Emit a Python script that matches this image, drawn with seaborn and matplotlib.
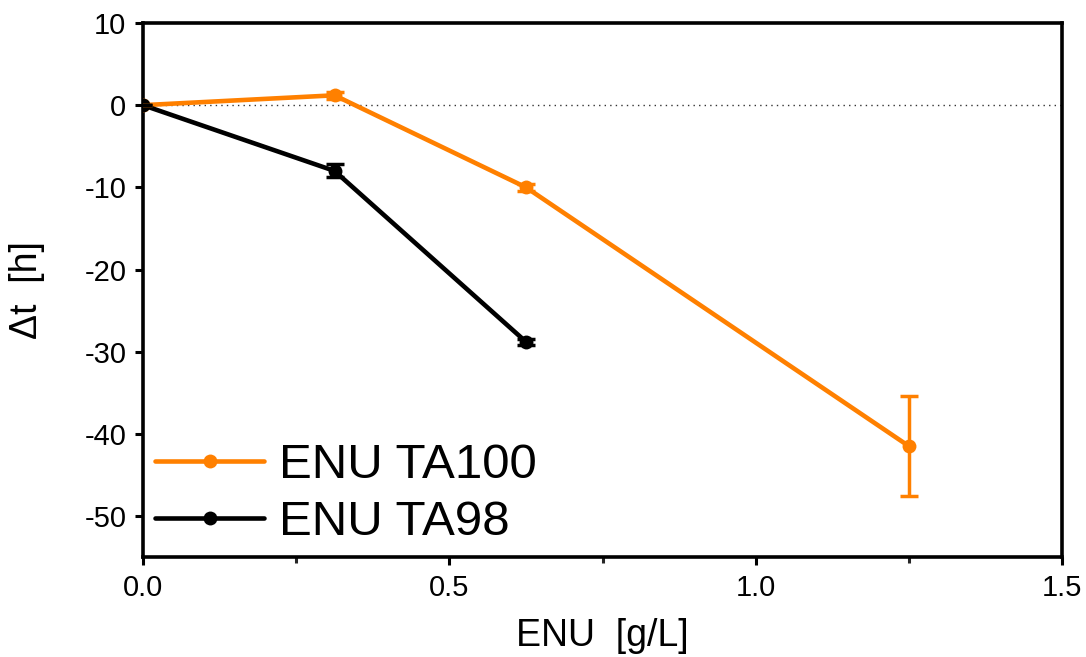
import numpy as np
import pandas as pd
import matplotlib
matplotlib.use("Agg")
import matplotlib.pyplot as plt
import seaborn as sns

# ENU concentration [g/L]
conc_ta100 = [0.0, 0.3125, 0.625, 1.25]
conc_ta98 = [0.0, 0.3125, 0.625]

# Time shift [h] and its error
dt_ta100 = [0.0, 1.2, -10.0, -41.5]
err_ta100 = [0.0, 0.4, 0.4, 6.1]
dt_ta98 = [0.0, -8.0, -28.8]
err_ta98 = [0.0, 0.8, 0.4]

labels = ["ENU TA100", "ENU TA98"]
colors = ["#FF8000", "#000000"]

x_ticks = [0.0, 0.5, 1.0, 1.5]
x_minor = [0.25, 0.75, 1.25]
y_ticks = [10, 0, -10, -20, -30, -40, -50]

sns.set_style("ticks")
plt.rcParams["font.family"] = ["Liberation Sans", "DejaVu Sans"]
plt.rcParams["axes.unicode_minus"] = False
plt.rcParams["text.color"] = "black"
plt.rcParams["axes.labelcolor"] = "black"

df = pd.concat([
    pd.DataFrame({"conc": conc_ta100, "dt": dt_ta100, "strain": labels[0]}),
    pd.DataFrame({"conc": conc_ta98, "dt": dt_ta98, "strain": labels[1]}),
], ignore_index=True)

fig = plt.figure(figsize=(10.86, 6.57), dpi=100)
ax = fig.add_axes([0.1317, 0.152, 0.8463, 0.813])

ax.axhline(0, color="#333333", linestyle=(0, (1, 3)), linewidth=1.0, zorder=1)

sns.lineplot(data=df, x="conc", y="dt", hue="strain", hue_order=labels,
             palette=dict(zip(labels, colors)), marker="o", markersize=10,
             markeredgewidth=0, linewidth=3.3, ax=ax, zorder=3)

for xs, ys, es, c in [(conc_ta100, dt_ta100, err_ta100, colors[0]),
                      (conc_ta98, dt_ta98, err_ta98, colors[1])]:
    ax.errorbar(xs, ys, yerr=es, fmt="none", ecolor=c, elinewidth=2.5,
                capsize=6.5, capthick=2.5, zorder=4)

ax.set_xlim(0, 1.5)
ax.set_ylim(-55, 10)
ax.set_xticks(x_ticks)
ax.set_xticklabels(["0.0", "0.5", "1.0", "1.5"])
ax.set_xticks(x_minor, minor=True)
ax.set_yticks(y_ticks)

for s in ax.spines.values():
    s.set_linewidth(2.6)
    s.set_color("black")
    s.set_visible(True)

ax.tick_params(axis="both", which="major", direction="out", length=6,
               width=2.2, labelsize=21, colors="black", pad=6)
ax.tick_params(axis="x", which="minor", direction="out", length=4, width=2.2)
ax.tick_params(top=False, right=False)

ax.set_xlabel("ENU  [g/L]", fontsize=27, labelpad=12)
ax.set_ylabel("Δt  [h]", fontsize=27, labelpad=28)

leg = ax.legend(loc="lower left", fontsize=35.5, frameon=False,
                handlelength=2.2, handletextpad=0.3, labelspacing=0.24,
                borderaxespad=0.2, borderpad=0.05)
for h in leg.legend_handles:
    h.set_linewidth(3.3)

fig.savefig("out.png", dpi=100)
